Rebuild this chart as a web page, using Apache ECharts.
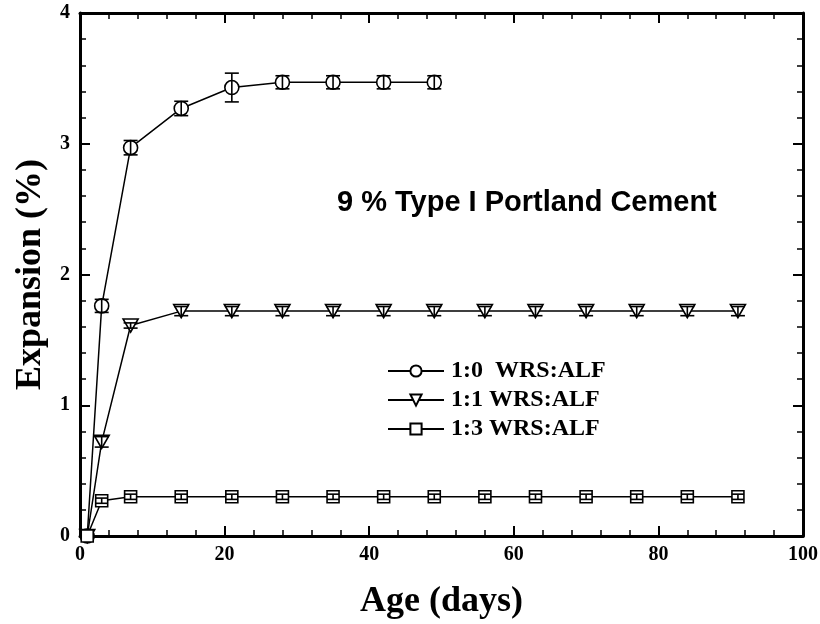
<!DOCTYPE html>
<html><head><meta charset="utf-8">
<script src="https://cdn.jsdelivr.net/npm/echarts@6/dist/echarts.min.js"></script>
<style>html,body{margin:0;padding:0;background:#fff}#c{width:820px;height:624px}</style>
</head><body><div id="c"></div>
<script>
// Data
const seriesNames = ['1:0  WRS:ALF', '1:1 WRS:ALF', '1:3 WRS:ALF'];
const ageA = [1, 3, 7, 14, 21, 28, 35, 42, 49];
const expA = [0, 1.76, 2.97, 3.27, 3.43, 3.47, 3.47, 3.47, 3.47];
const errA = [0, 0.05, 0.055, 0.055, 0.11, 0.05, 0.05, 0.05, 0.05];
const ageB = [1, 3, 7, 14, 21, 28, 35, 42, 49, 56, 63, 70, 77, 84, 91];
const expB = [0, 0.72, 1.61, 1.72, 1.72, 1.72, 1.72, 1.72, 1.72, 1.72, 1.72, 1.72, 1.72, 1.72, 1.72];
const errB = [0, 0.04, 0.02, 0.035, 0.035, 0.035, 0.035, 0.035, 0.035, 0.035, 0.035, 0.035, 0.035, 0.035, 0.035];
const ageC = [1, 3, 7, 14, 21, 28, 35, 42, 49, 56, 63, 70, 77, 84, 91];
const expC = [0, 0.27, 0.30, 0.30, 0.30, 0.30, 0.30, 0.30, 0.30, 0.30, 0.30, 0.30, 0.30, 0.30, 0.30];
const errC = [0, 0.02, 0.02, 0.02, 0.02, 0.02, 0.02, 0.02, 0.02, 0.02, 0.02, 0.02, 0.02, 0.02, 0.02];
const annotation = '9 % Type I Portland Cement';

const serif = 'Liberation Serif, Times New Roman, serif';
const sans = 'Liberation Sans, Arial, sans-serif';

function zip(xs, ys) { return xs.map((x, i) => [x, ys[i]]); }
function zip3(xs, ys, es) { return xs.map((x, i) => [x, ys[i], es[i]]); }

function errSeries(data, cap) {
  return {
    type: 'custom',
    xAxisIndex: 0, yAxisIndex: 0,
    z: 5,
    silent: true,
    data: data,
    renderItem: function (params, api) {
      const x = api.value(0), y = api.value(1), e = api.value(2);
      if (!e) return null;
      const top = api.coord([x, y + e]);
      const bot = api.coord([x, y - e]);
      const st = { stroke: '#000', lineWidth: 1.6 };
      return {
        type: 'group',
        children: [
          { type: 'line', shape: { x1: top[0], y1: top[1], x2: bot[0], y2: bot[1] }, style: st },
          { type: 'line', shape: { x1: top[0] - cap, y1: top[1], x2: top[0] + cap, y2: top[1] }, style: st },
          { type: 'line', shape: { x1: bot[0] - cap, y1: bot[1], x2: bot[0] + cap, y2: bot[1] }, style: st }
        ]
      };
    }
  };
}

const lineStyle = { color: '#000', width: 1.5 };
const itemStyle = { color: '#fff', borderColor: '#000', borderWidth: 1.6 };

function axisCommon(showLabel, pos) {
  return {
    type: 'value',
    position: pos,
    axisLine: { show: true, onZero: false, lineStyle: { color: '#000', width: 3 } },
    axisTick: { show: true, inside: true, length: 10, lineStyle: { color: '#000', width: 2 } },
    minorTick: { show: true, splitNumber: 5, length: 6, lineStyle: { color: '#000', width: 1.5 } },
    splitLine: { show: false },
    axisLabel: { show: showLabel, color: '#000', fontFamily: serif, fontWeight: 'bold', fontSize: 20 }
  };
}

const chart = echarts.init(document.getElementById('c'), null, { renderer: 'canvas' });
const xb = axisCommon(true, 'bottom');
Object.assign(xb, { min: 0, max: 100, interval: 20, name: 'Age (days)', nameLocation: 'middle', nameGap: 48,
  nameTextStyle: { color: '#000', fontFamily: serif, fontWeight: 'bold', fontSize: 36 } });
xb.axisLabel.margin = 9;
const xt = axisCommon(false, 'top');
Object.assign(xt, { min: 0, max: 100, interval: 20 });
const yl = axisCommon(true, 'left');
Object.assign(yl, { min: 0, max: 4, interval: 1, name: 'Expansion (%)', nameLocation: 'middle', nameGap: 31, nameRotate: 90,
  nameTextStyle: { color: '#000', fontFamily: serif, fontWeight: 'bold', fontSize: 36, padding: [0, 0, 0, 0] } });
yl.axisLabel.margin = 10;
const yr = axisCommon(false, 'right');
Object.assign(yr, { min: 0, max: 4, interval: 1 });

chart.setOption({
  animation: false,
  grid: { left: 80, right: 17, top: 13, bottom: 88, containLabel: false, outerBoundsMode: 'none' },
  xAxis: [xb, xt],
  yAxis: [yl, yr],
  legend: {
    orient: 'vertical', left: 382, top: 354, itemWidth: 56, itemHeight: 14, itemGap: 5,
    textStyle: { color: '#000', fontFamily: serif, fontWeight: 'bold', fontSize: 24, padding: [0, 0, 0, 2] },
    data: seriesNames
  },
  graphic: [{
    type: 'text', left: 337, top: 188,
    style: { text: annotation, fill: '#000', font: 'bold 29px ' + sans }
  }],
  series: [
    { name: seriesNames[0], type: 'line', data: zip(ageA, expA), symbol: 'circle', symbolSize: 14, z: 4,
      lineStyle, itemStyle },
    { name: seriesNames[1], type: 'line', data: zip(ageB, expB), symbol: 'triangle', symbolRotate: 180, symbolSize: [15, 13], z: 4,
      lineStyle, itemStyle },
    { name: seriesNames[2], type: 'line', data: zip(ageC, expC), symbol: 'rect', symbolSize: 12, z: 4,
      lineStyle, itemStyle },
    errSeries(zip3(ageA, expA, errA), 7),
    errSeries(zip3(ageB, expB, errB), 7),
    errSeries(zip3(ageC, expC, errC), 6)
  ]
});
</script></body></html>
